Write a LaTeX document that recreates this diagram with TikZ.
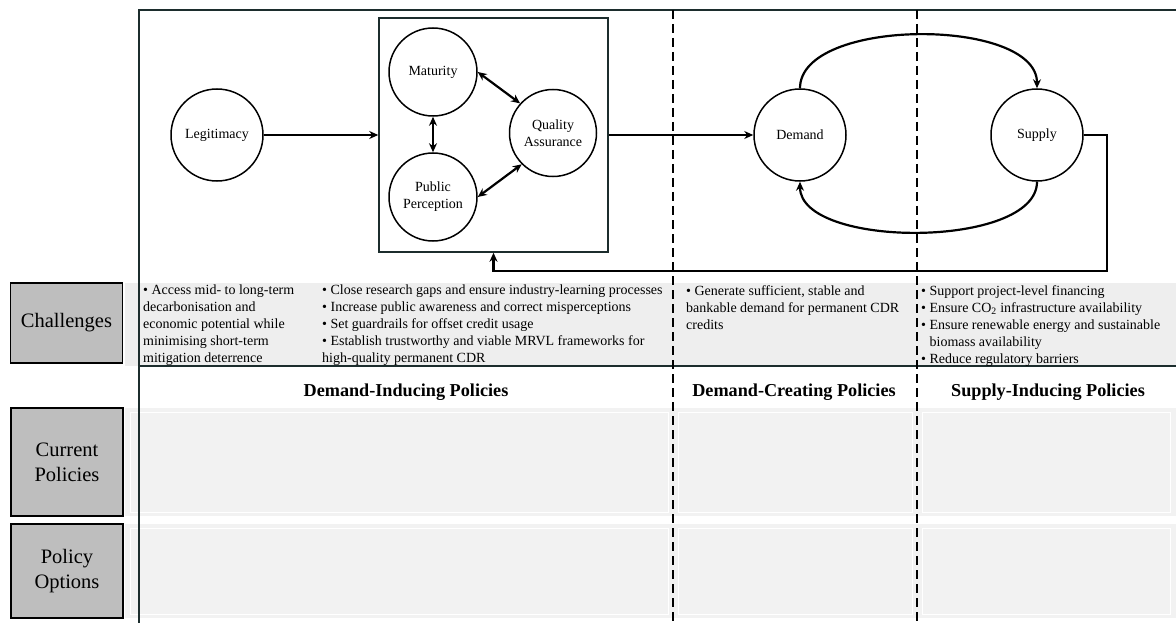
\documentclass[tikz,border=0pt]{standalone}
\usepackage{fontspec}
\setmainfont{Liberation Serif}
\usetikzlibrary{arrows.meta,calc}
\definecolor{framecol}{RGB}{28,45,45}
\definecolor{bandgray}{RGB}{238,238,238}
\definecolor{cellgray}{RGB}{242,242,242}
\definecolor{boxgray}{RGB}{190,190,190}
\begin{document}
\begin{tikzpicture}[x=1pt,y=-1pt,
  circ/.style={circle, draw, line width=1.5pt, fill=white, minimum size=92pt, inner sep=0pt, font=\fontsize{14}{17}\selectfont, align=center},
  arr/.style={line width=2.2pt, -{Stealth[length=9pt,width=8pt]}},
  darr/.style={line width=2.2pt, {Stealth[length=9pt,width=8pt]}-{Stealth[length=9pt,width=8pt]}},
  sidebox/.style={draw=black, line width=1.6pt, fill=boxgray, minimum width=112pt, align=center, font=\fontsize{20.5}{25}\selectfont, inner sep=0pt},
  band/.style={fill=bandgray, draw=none},
  divider/.style={line width=1.8pt, dash pattern=on 9pt off 5pt},
  chal/.style={anchor=north west, inner sep=0pt, align=left, font=\fontsize{14}{17}\selectfont},
  head/.style={font=\fontsize{18.2}{22}\selectfont\bfseries}]
\useasboundingbox (0,0) rectangle (1176,623);
\fill[white] (0,0) rectangle (1176,623);
% bands
\fill[band] (125,283) rectangle (1176,366);
\fill[cellgray] (125,408) rectangle (1176,516);
\fill[cellgray] (125,524) rectangle (1176,618);
\draw[white, line width=1pt] (130,412) rectangle (668,512);
\draw[white, line width=1pt] (678,412) rectangle (912,512);
\draw[white, line width=1pt] (922,412) rectangle (1170,512);
\draw[white, line width=1pt] (130,528) rectangle (668,614);
\draw[white, line width=1pt] (678,528) rectangle (912,614);
\draw[white, line width=1pt] (922,528) rectangle (1170,614);
% frame
\draw[framecol, line width=1.5pt] (139,623) -- (139,10) -- (1176,10);
\draw[framecol, line width=1.8pt] (139,366) -- (1176,366);
% dividers
\coordinate (d1t) at (673,10); \coordinate (d1b) at (673,623);
\coordinate (d2t) at (917,10); \coordinate (d2b) at (917,623);
\draw[divider] (d1t) -- (d1b);
\draw[divider] (d2t) -- (d2b);
% side boxes
\node[sidebox, minimum height=80pt] (chb) at (66.5,323) {Challenges};
\node[sidebox, minimum height=108pt] (cpb) at (67,462) {Current\\Policies};
\node[sidebox, minimum height=94pt] (pob) at (67,571) {Policy\\Options};
% dimension box and circles
\node[draw=framecol, line width=1.5pt, fill=white, minimum width=229pt, minimum height=234pt, inner sep=0pt] (dim) at (493.5,135) {};
\node[circ] (leg) at (217,135) {Legitimacy};
\node[circ, minimum size=88pt] (mat) at (433,72) {Maturity};
\node[circ, minimum size=88pt] (pp) at (433,197) {Public\\Perception};
\node[circ, minimum size=87pt] (qa) at (553,133) {Quality\\Assurance};
\node[circ] (dem) at (800,135) {Demand};
\node[circ] (sup) at (1037,135) {Supply};
% connectors
\draw[arr] (leg) -- (dim.west);
\draw[darr] (mat) -- (pp);
\draw[darr] (mat.east) -- (qa.138);
\draw[darr] (pp.east) -- (qa.225);
\draw[arr] (dim.east) -- (dem);
\draw[arr] (dem.north) .. controls (800,17) and (1037,17) .. (sup.north);
\draw[arr] (sup.south) .. controls (1037,249) and (800,249) .. (dem.south);
\coordinate (fb1) at (1107,135);
\coordinate (fb2) at (1107,271);
\draw[arr] (sup.east) -- (fb1) -- (fb2) -| (dim.south);
% challenges text
\node[chal] (c1) at (143,285) {• Access mid- to long-term\\decarbonisation and\\economic potential while\\minimising short-term\\mitigation deterrence};
\node[chal] (c2) at (322,285) {• Close research gaps and ensure industry-learning processes\\• Increase public awareness and correct misperceptions\\• Set guardrails for offset credit usage\\• Establish trustworthy and viable MRVL frameworks for\\high-quality permanent CDR};
\node[chal] (c3) at (686,285) {• Generate sufficient, stable and\\bankable demand for permanent CDR\\credits};
\node[chal] (c4) at (921,285) {• Support project-level financing\\• Ensure CO\textsubscript{2} infrastructure availability\\• Ensure renewable energy and sustainable\\\hphantom{•\ }biomass availability\\• Reduce regulatory barriers};
% headings
\node[head] (h1) at (406,392) {Demand-Inducing Policies};
\node[head] (h2) at (794,392) {Demand-Creating Policies};
\node[head] (h3) at (1048,392) {Supply-Inducing Policies};
\end{tikzpicture}
\end{document}
